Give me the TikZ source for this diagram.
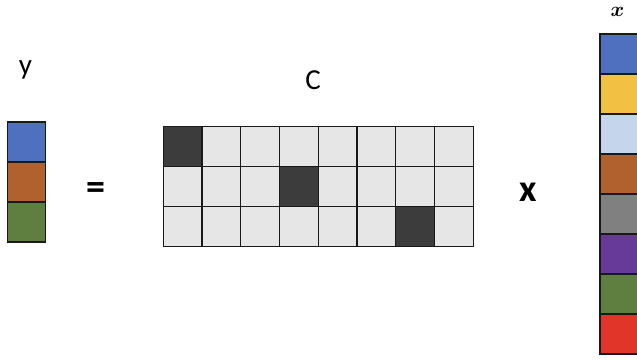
\documentclass[tikz,border=0pt]{standalone}
\usepackage{fontspec}
\usepackage{amsmath,bm}
\setmainfont{Carlito}
\definecolor{vblue}{HTML}{4F6FBF}
\definecolor{vyellow}{HTML}{F2C144}
\definecolor{vlight}{HTML}{C5D6EC}
\definecolor{vbrown}{HTML}{B0612E}
\definecolor{vgray}{HTML}{808080}
\definecolor{vpurple}{HTML}{673A99}
\definecolor{vgreen}{HTML}{5E7F3F}
\definecolor{vred}{HTML}{E2352A}
\definecolor{cdark}{HTML}{3C3C3C}
\definecolor{clight}{HTML}{E6E6E6}
\begin{document}
\begin{tikzpicture}[
    x=1pt, y=-1pt, % 像素坐标，y 向下
    cell/.style={draw=black!90, line width=1.2pt, inner sep=0pt, outer sep=0pt,
                 minimum width=38.75pt, minimum height=40pt},
    vcell/.style={cell, minimum width=38pt}
]
    \useasboundingbox (0,0) rectangle (637,362);
    \clip (0,0) rectangle (637,362);

    % 左边向量 y
    \foreach \k/\col in {1/vblue, 2/vbrown, 3/vgreen} {
        \node[vcell, fill=\col] (y\k) at (26.4, 102+40*\k) {};
    }
    \node[anchor=base, font=\fontsize{29}{29}\selectfont] (ylab) at (25.5, 74) {y};

    % 等号
    \node[font=\fontsize{38}{38}\selectfont\bfseries] (eq) at (96, 191) {=};

    % 矩阵 C：8 列 3 行，深色格子 (1,1) (4,2) (7,3)
    \foreach \i in {1,...,8} {
        \foreach \j in {1,2,3} {
            \pgfmathtruncatemacro{\d}{\i==(3*\j-2) ? 1 : 0}
            \ifnum\d=1
                \node[cell, fill=cdark] (c\j\i) at (163.3+38.75*\i-19.375, 106.7+40*\j) {};
            \else
                \node[cell, fill=clight] (c\j\i) at (163.3+38.75*\i-19.375, 106.7+40*\j) {};
            \fi
        }
    }
    \node[anchor=base, font=\fontsize{29}{29}\selectfont] (clab) at (313, 89.3) {C};

    % 乘号
    \node[anchor=base, font=\fontsize{38}{38}\selectfont\bfseries] (times) at (528, 201) {x};

    % 右边向量 x（右边被裁掉）
    \foreach \k/\col in {1/vblue, 2/vyellow, 3/vlight, 4/vbrown, 5/vgray, 6/vpurple, 7/vgreen, 8/vred} {
        \node[vcell, fill=\col] (x\k) at (619, 14+40*\k) {};
    }
    \node[anchor=base, inner sep=0pt, font=\fontsize{21}{21}\selectfont] (xlab) at (617.5, 16) {$\bm{x}$};
\end{tikzpicture}
\end{document}
